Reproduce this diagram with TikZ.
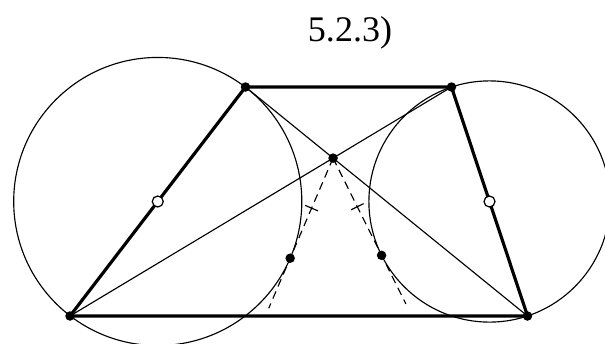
\documentclass[tikz,border=0pt]{standalone}
\usepackage{fontspec}
\setmainfont{Liberation Serif}
\usetikzlibrary{calc, through}

\begin{document}
\begin{tikzpicture}[
    thinline/.style={line width=0.65pt},
    legline/.style={line width=1.8pt},
    dashline/.style={line width=0.65pt, dash pattern=on 4.5pt off 3pt},
    dot/.style={circle, fill=black, inner sep=0pt, minimum size=0.19cm},
    hollow/.style={circle, draw=black, fill=white, line width=0.7pt, inner sep=0pt, minimum size=0.22cm}
  ]
    \useasboundingbox (0,0) rectangle (12.1,6.86);

    %% ── trapezoid vertices ─────────────────────────────────────────
    \coordinate (A) at (1.40,0.54);
    \coordinate (B) at (4.91,5.12);
    \coordinate (C) at (9.03,5.12);
    \coordinate (D) at (10.55,0.54);
    \coordinate (O) at (intersection of A--C and B--D);
    \coordinate (mAB) at ($(A)!0.5!(B)$);
    \coordinate (mCD) at ($(C)!0.5!(D)$);

    \node[font=\fontsize{20.5}{24}\selectfont, anchor=base] (title) at (7.0,6.04) {5.2.3)};

    %% ── circles on the legs as diameters ───────────────────────────
    \node[draw, thinline, circle through=(B)] (kAB) at (mAB) {};
    \node[draw, thinline, circle through=(D)] (kCD) at (mCD) {};

    % tangent points from O
    \coordinate (T1) at (tangent cs:node=kAB, point={(O)}, solution=2);
    \coordinate (T2) at (tangent cs:node=kCD, point={(O)}, solution=1);

    %% ── diagonals ──────────────────────────────────────────────────
    \draw[thinline] (A) -- (C);
    \draw[thinline] (B) -- (D);

    %% ── tangents (dashed) with equal-length ticks ──────────────────
    \draw[dashline] (O) -- ($(O)!1.5!(T1)$);
    \draw[dashline] (O) -- ($(O)!1.5!(T2)$);
    \coordinate (h1) at ($(O)!0.5!(T1)$);
    \coordinate (h2) at ($(O)!0.5!(T2)$);
    \draw[thinline] ($(h1)!0.14cm!90:(O)$) -- ($(h1)!0.14cm!-90:(O)$);
    \draw[thinline] ($(h2)!0.14cm!90:(O)$) -- ($(h2)!0.14cm!-90:(O)$);

    %% ── trapezoid ──────────────────────────────────────────────────
    \draw[legline, line join=round] (A) -- (B) -- (C) -- (D) -- cycle;

    %% ── points ─────────────────────────────────────────────────────
    \foreach \p in {A, B, C, D, O, T1, T2}
      \node[dot] (d\p) at (\p) {};
    \node[hollow] (cAB) at (mAB) {};
    \node[hollow] (cCD) at (mCD) {};
\end{tikzpicture}
\end{document}
